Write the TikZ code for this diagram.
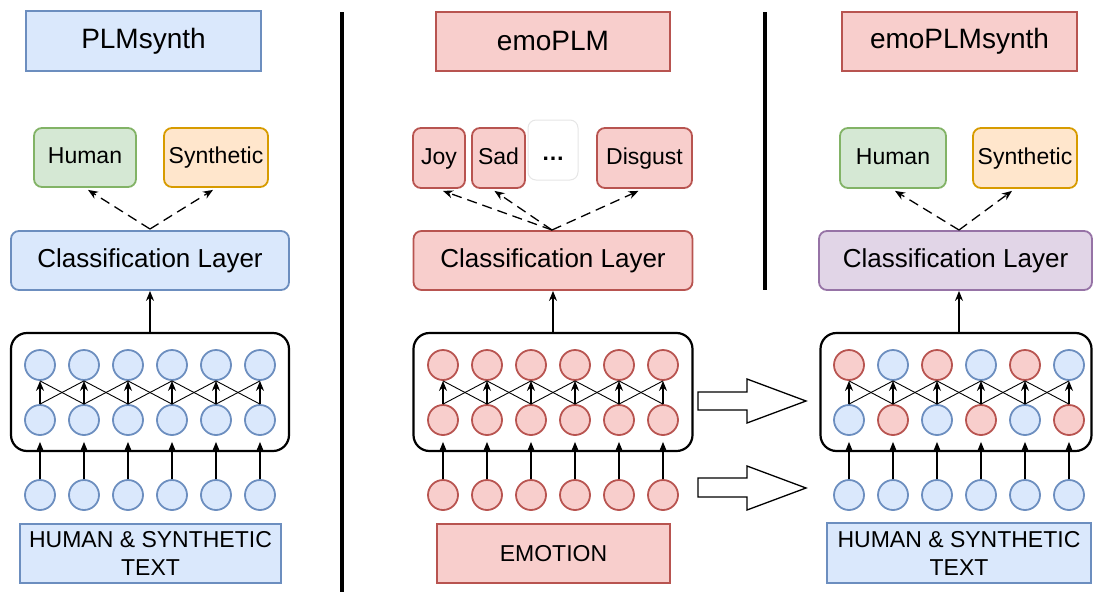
\documentclass[tikz,border=0pt]{standalone}
\usepackage{fontspec}
\setmainfont{Liberation Sans}
\usetikzlibrary{arrows.meta,calc}
\definecolor{bfill}{HTML}{DAE8FC}\definecolor{bdraw}{HTML}{6C8EBF}
\definecolor{rfill}{HTML}{F8CECC}\definecolor{rdraw}{HTML}{B85450}
\definecolor{gfill}{HTML}{D5E8D4}\definecolor{gdraw}{HTML}{82B366}
\definecolor{ofill}{HTML}{FFE6CC}\definecolor{odraw}{HTML}{D79B00}
\definecolor{pfill}{HTML}{E1D5E7}\definecolor{pdraw}{HTML}{9673A6}
\definecolor{dotdraw}{HTML}{E6E6E6}
\tikzset{
  box/.style={draw, line width=1.8pt, inner sep=0pt, align=center},
  bluebox/.style={box, fill=bfill, draw=bdraw},
  redbox/.style={box, fill=rfill, draw=rdraw},
  greenbox/.style={box, fill=gfill, draw=gdraw},
  orangebox/.style={box, fill=ofill, draw=odraw},
  purplebox/.style={box, fill=pfill, draw=pdraw},
  titlefont/.style={font=\fontsize{28}{32}\selectfont},
  clsfont/.style={font=\fontsize{26}{30}\selectfont},
  labfont/.style={font=\fontsize{23}{28}\selectfont},
  lab/.style={labfont, text height=17pt, text depth=5pt},
  rnd/.style={rounded corners=8pt},
  bigbox/.style={draw, line width=2.2pt, rounded corners=16pt, inner sep=0pt},
  circ/.style={circle, minimum size=30pt, inner sep=0pt, line width=1.8pt},
  cb/.style={circ, fill=bfill, draw=bdraw},
  cr/.style={circ, fill=rfill, draw=rdraw},
  arr/.style={line width=1.3pt, -{Stealth[length=10pt,width=8pt]}},
  darr/.style={line width=1.3pt, dash pattern=on 10pt off 6pt, -{Stealth[length=10pt,width=8pt]}},
  cross/.style={line width=0.9pt},
  divider/.style={line width=3.2pt},
  hollow/.style={draw, line width=1.3pt, fill=white, line join=miter}
}
\begin{document}
\begin{tikzpicture}[x=1pt,y=-1pt]
\useasboundingbox (0,0) rectangle (1093,592);
% dividers
\draw[divider] (342,12) -- (342,592);
\draw[divider] (765,12) -- (765,290);

% ===== LEFT =====
\node[bluebox, titlefont, minimum width=235pt, minimum height=60pt] (ltitle) at (143.5,41) {PLMsynth};
\node[greenbox, rnd, lab, minimum width=102pt, minimum height=59pt] (lhum) at (85,157.5) {Human};
\node[orangebox, rnd, lab, minimum width=104pt, minimum height=59pt] (lsyn) at (216,157.5) {Synthetic};
\node[bluebox, rnd, clsfont, minimum width=278pt, minimum height=59pt] (lcl) at (150,260.5) {Classification Layer};
\node[bigbox, minimum width=278pt, minimum height=118pt] (lbig) at (150,392) {};
\node[bluebox, labfont, minimum width=261pt, minimum height=59pt, line width=1.4pt] (ltext) at (150.5,553.5) {HUMAN \& SYNTHETIC\\TEXT};
\coordinate (lo) at (150,229);
\draw[darr] (lo) -- ($(lhum.south)+(3,2)$);
\draw[darr] (lo) -- ($(lsyn.south)+(-3,2)$);
\draw[arr] (lbig.north) -- (lcl.south);
\foreach \i in {1,...,6}{
  \pgfmathsetmacro\xx{40+44*(\i-1)}
  \node[cb] (la\i) at (\xx,365) {};
  \node[cb] (lb\i) at (\xx,420) {};
  \node[cb] (lc\i) at (\xx,495) {};
}

% ===== MIDDLE =====
\node[redbox, titlefont, minimum width=234pt, minimum height=59pt] (mtitle) at (553,41.5) {emoPLM};
\node[redbox, rnd, lab, minimum width=52pt, minimum height=60pt] (mjoy) at (439,158) {Joy};
\node[redbox, rnd, lab, minimum width=53pt, minimum height=60pt] (msad) at (498.5,158) {Sad};
\node[box, rnd, draw=dotdraw, fill=white, line width=1pt, lab, minimum width=50pt, minimum height=60pt] (mdots) at (553,150) {\raisebox{-4pt}{\bfseries …}};
\node[redbox, rnd, lab, minimum width=95pt, minimum height=60pt] (mdis) at (644.5,158) {Disgust};
\node[redbox, rnd, clsfont, minimum width=279pt, minimum height=59pt] (mcl) at (553,260.5) {Classification Layer};
\node[bigbox, minimum width=279pt, minimum height=118pt] (mbig) at (553,392) {};
\node[redbox, labfont, minimum width=233pt, minimum height=59pt, line width=1.4pt] (mtext) at (553.5,553.5) {EMOTION};
\coordinate (mo) at (552,230);
\draw[darr] (mo) -- ($(mjoy.south)+(4,2)$);
\draw[darr] (mo) -- ($(msad.south)+(-4,2)$);
\draw[darr] (mo) -- ($(mdis.south)+(-6,2)$);
\draw[arr] (mbig.north) -- (mcl.south);
\foreach \i in {1,...,6}{
  \pgfmathsetmacro\xx{443+44*(\i-1)}
  \node[cr] (ma\i) at (\xx,365) {};
  \node[cr] (mb\i) at (\xx,420) {};
  \node[cr] (mc\i) at (\xx,495) {};
}

% ===== RIGHT =====
\node[redbox, titlefont, minimum width=235pt, minimum height=59pt] (rtitle) at (959.5,41.5) {emoPLMsynth};
\node[greenbox, rnd, lab, minimum width=106pt, minimum height=60pt] (rhum) at (893,158) {Human};
\node[orangebox, rnd, lab, minimum width=104pt, minimum height=60pt] (rsyn) at (1025,158) {Synthetic};
\node[purplebox, rnd, clsfont, minimum width=273pt, minimum height=59pt] (rcl) at (955.5,260.5) {Classification Layer};
\node[bigbox, minimum width=271pt, minimum height=118pt] (rbig) at (956,392) {};
\node[bluebox, labfont, minimum width=264pt, minimum height=60pt, line width=1.4pt] (rtext) at (959,553) {HUMAN \& SYNTHETIC\\TEXT};
\coordinate (ro) at (959,230);
\draw[darr] (ro) -- ($(rhum.south)+(2,2)$);
\draw[darr] (ro) -- ($(rsyn.south)+(-13,2)$);
\draw[arr] (rbig.north -| ro) -- (rcl.south -| ro);
\foreach \i in {1,...,6}{
  \pgfmathsetmacro\xx{849+44*(\i-1)}
  \ifodd\i
    \node[cr] (ra\i) at (\xx,365) {};
    \node[cb] (rb\i) at (\xx,420) {};
  \else
    \node[cb] (ra\i) at (\xx,365) {};
    \node[cr] (rb\i) at (\xx,420) {};
  \fi
  \node[cb] (rc\i) at (\xx,495) {};
}

% network connectors for all three panels
\foreach \p in {l,m,r}{
  \foreach \i in {1,...,6}{
    \draw[arr, shorten >=6pt] (\p c\i.north) -- (\p b\i.south);
    \draw[arr] (\p b\i.north) -- (\p a\i.south);
  }
  \foreach \i [evaluate=\i as \j using int(\i+1)] in {1,...,5}{
    \draw[cross] (\p b\i.north) -- (\p a\j.south);
    \draw[cross] (\p b\j.north) -- (\p a\i.south);
  }
}

% hollow transfer arrows
\draw[hollow] (698,392) -- (747,392) -- (747,379) -- (806,401) -- (747,423) -- (747,410) -- (698,410) -- cycle;
\draw[hollow] (698,478) -- (747,478) -- (747,466) -- (806,488) -- (747,510) -- (747,497) -- (698,497) -- cycle;
\end{tikzpicture}
\end{document}
